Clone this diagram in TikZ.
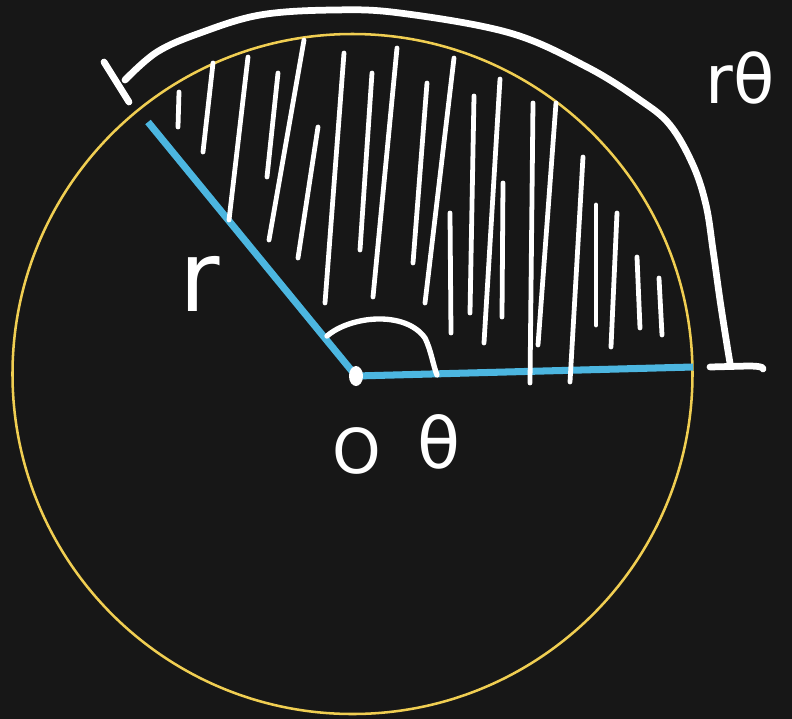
\documentclass[tikz,border=0pt]{standalone}
\usepackage{fontspec}
\setmainfont{DejaVu Sans}
\definecolor{board}{RGB}{23,23,23}
\definecolor{chalkyellow}{RGB}{240,206,82}
\definecolor{chalkblue}{RGB}{76,182,224}
\begin{document}
\begin{tikzpicture}[x=0.025cm, y=-0.025cm,
    chalk/.style={white, line width=4.8pt, line cap=round, line join=round},
    hatch/.style={white, line width=3.4pt, line cap=round},
    chalktext/.style={text=white, inner sep=0pt}]
    \fill[board] (0,0) rectangle (792,719);
    \useasboundingbox (0,0) rectangle (792,719);

    \coordinate (C) at (352.5,374);
    \coordinate (O) at (356,376);
    \coordinate (P) at (148,122);
    \coordinate (Q) at (693,367);

    \draw[chalkyellow, line width=1.8pt] (C) circle[radius=340];

    \draw[chalkblue, line width=5pt] (P) -- (O) -- (Q);

    % hatching of the sector, stroke by stroke
    \foreach \xa/\ya/\xb/\yb in {179/92/178/127, 213/63/203/152, 248/57/229/220,
        278/73/267/177, 304/40/269/240, 318/127/298/258, 344/53/325/303,
        372/73/360/250, 397/48/373/297, 427/83/413/263, 454/58/425/303,
        450/213/451/333, 474/96/470/313, 500/79/484/343, 503/183/502/317,
        533/103/530/383, 556/103/538/345, 583/157/570/382, 596/205/596/325,
        617/213/611/347, 637/257/640/328, 659/278/662/335} {
        \draw[hatch] (\xa,\ya) -- (\xb,\yb);
    }

    \fill[white] (O) ellipse[x radius=7, y radius=10];

    \draw[chalk, line width=3.8pt] (327,336) .. controls (350,316) and (405,310) .. (425,338)
        .. controls (431,350) and (433,365) .. (437,375);

    \draw[chalk] (104,62) -- (129,102);
    \draw[chalk] plot[smooth, tension=0.6] coordinates {(125,80) (157,52) (200,33)
        (260,15) (333,10) (400,13) (510,33) (587,67) (640,100) (670,125)
        (693,165) (706,205) (713,250) (720,300) (727,345) (730,363)};
    \draw[chalk] (710,367) -- (748,366) .. controls (758,366) and (764,367) .. (763,369);

    \node[chalktext, font=\fontsize{70}{70}\selectfont] (rlab) at (200,284) {r};
    \node[chalktext, font=\fontsize{44}{44}\selectfont] (olab) at (357,451) {O};
    \node[chalktext, font=\fontsize{50}{50}\selectfont] (thlab) at (439,442) {θ};
    \node[chalktext, font=\fontsize{48}{48}\selectfont, anchor=west] (arclab) at (705,78) {rθ};
\end{tikzpicture}
\end{document}
